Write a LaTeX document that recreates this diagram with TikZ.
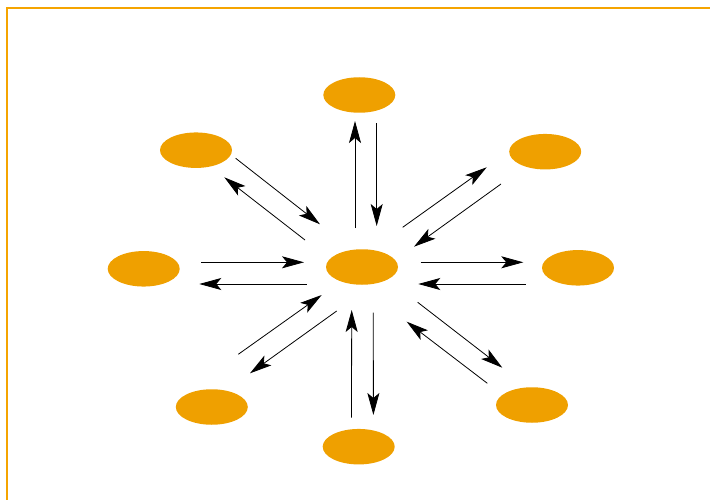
\documentclass[tikz,border=0pt]{standalone}
\usetikzlibrary{arrows.meta,shapes.geometric,positioning}
\definecolor{ellfill}{HTML}{EFA000}
\definecolor{frameline}{HTML}{F5A400}
\tikzstyle{ell}=[ellipse,fill=ellfill,minimum width=72pt,minimum height=35.5pt,inner sep=0pt]
\tikzstyle{arr}=[->,line width=0.8pt]

\begin{document}
\begin{tikzpicture}[
      x=1pt,y=-1pt,
      >={Stealth[length=22pt,width=12pt,inset=5pt]}
    ]
      \useasboundingbox (0,0) rectangle (710,500);
      \draw[frameline,line width=1.2pt] (7,500) -- (7,8) -- (710,8);

      \node [ell] (c)  at (362,267) {};
      \node [ell] (n)  at (359.3,95) {};
      \node [ell] (nw) at (196,150.2) {};
      \node [ell] (ne) at (545.2,151.7) {};
      \node [ell] (w)  at (143.7,268.8) {};
      \node [ell] (e)  at (578,267.8) {};
      \node [ell] (sw) at (211.8,407) {};
      \node [ell] (s)  at (358.7,446.7) {};
      \node [ell] (se) at (532,405) {};

      % top
      \draw[arr] ([shift={(-7,-39)}]c.center) -- ([shift={(-4.3,26)}]n.center);
      \draw[arr] ([shift={(17.4,28.3)}]n.center) -- ([shift={(14.7,-41)}]c.center);
      % top left
      \draw[arr] ([shift={(39.7,8.1)}]nw.center) -- ([shift={(-42,-42.7)}]c.center);
      \draw[arr] ([shift={(-57,-27)}]c.center) -- ([shift={(28.3,27.1)}]nw.center);
      % top right
      \draw[arr] ([shift={(40.7,-39.7)}]c.center) -- ([shift={(-58.5,15.6)}]ne.center);
      \draw[arr] ([shift={(-44.2,32.3)}]ne.center) -- ([shift={(52,-20.3)}]c.center);
      % left
      \draw[arr] ([shift={(57.3,-6.5)}]w.center) -- ([shift={(-58,-4.7)}]c.center);
      \draw[arr] ([shift={(-55.3,17)}]c.center) -- ([shift={(55.6,15.2)}]w.center);
      % right
      \draw[arr] ([shift={(58.7,-4.7)}]c.center) -- ([shift={(-54.7,-5.5)}]e.center);
      \draw[arr] ([shift={(-52.3,16.2)}]e.center) -- ([shift={(56.3,17)}]c.center);
      % bottom left
      \draw[arr] ([shift={(26.5,-52.7)}]sw.center) -- ([shift={(-40.3,28)}]c.center);
      \draw[arr] ([shift={(-25.3,44)}]c.center) -- ([shift={(38.2,-33.7)}]sw.center);
      % bottom
      \draw[arr] ([shift={(-7.2,-29.2)}]s.center) -- ([shift={(-10.3,43)}]c.center);
      \draw[arr] ([shift={(11.3,45.7)}]c.center) -- ([shift={(14.7,-31.7)}]s.center);
      % bottom right
      \draw[arr] ([shift={(55.7,35.3)}]c.center) -- ([shift={(-29.7,-37.3)}]se.center);
      \draw[arr] ([shift={(-44.7,-21.7)}]se.center) -- ([shift={(44.7,54.7)}]c.center);
\end{tikzpicture}
\end{document}
